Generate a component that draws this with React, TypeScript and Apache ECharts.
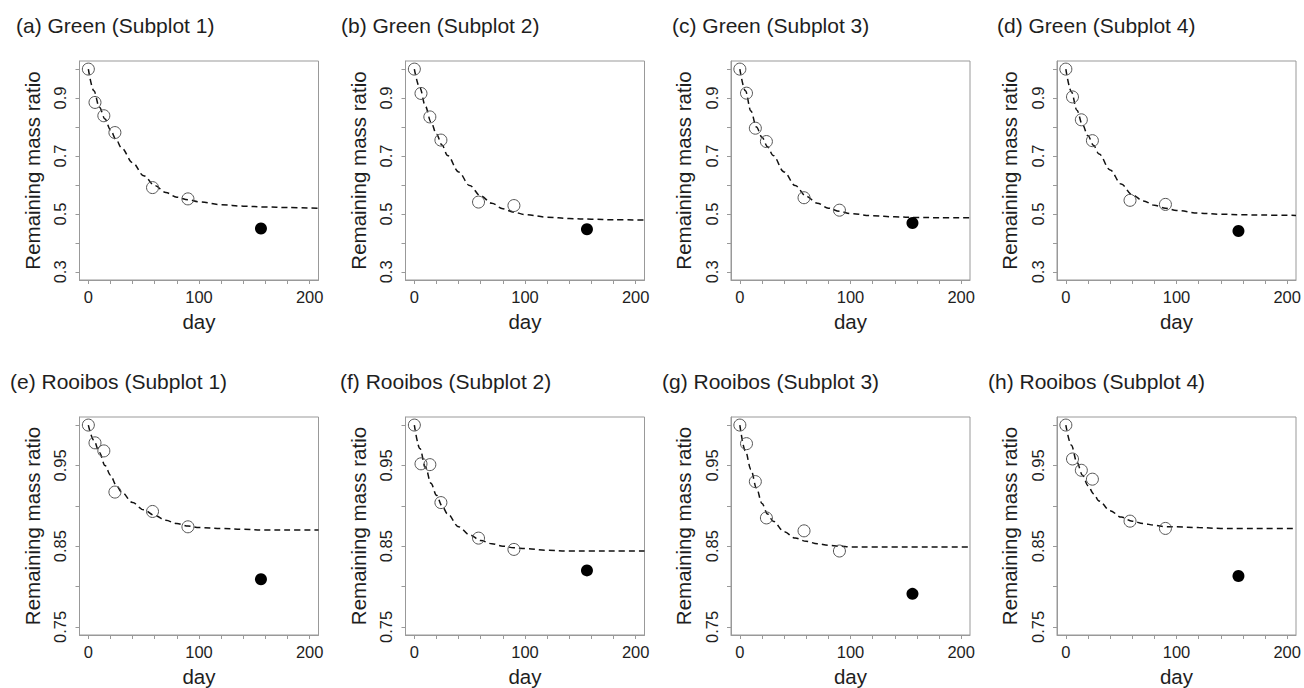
import React, { useEffect, useRef } from "react";
import * as echarts from "echarts";

// ---------- data ----------
const PANEL_TITLES = [
  "(a) Green (Subplot 1)",
  "(b) Green (Subplot 2)",
  "(c) Green (Subplot 3)",
  "(d) Green (Subplot 4)",
  "(e) Rooibos (Subplot 1)",
  "(f) Rooibos (Subplot 2)",
  "(g) Rooibos (Subplot 3)",
  "(h) Rooibos (Subplot 4)",
];

const OBS_DAYS = [0, 6, 14, 24, 58, 90];
const FILLED_DAY = 156;
const CURVE_DAYS = [0, 5, 10, 15, 20, 25, 30, 40, 50, 60, 70, 80, 90, 100, 120, 140, 160, 180, 208];

const X_TICKS = [0, 20, 40, 60, 80, 100, 120, 140, 160, 180, 200];
const X_LABELS = [0, 100, 200];
const GREEN_Y_TICKS = [0.3, 0.4, 0.5, 0.6, 0.7, 0.8, 0.9, 1.0];
const GREEN_Y_LABELS = [0.3, 0.5, 0.7, 0.9];
const ROOIBOS_Y_TICKS = [0.75, 0.8, 0.85, 0.9, 0.95, 1.0];
const ROOIBOS_Y_LABELS = [0.75, 0.85, 0.95];

const A_OBS = [1.0, 0.885, 0.839, 0.781, 0.591, 0.552];
const B_OBS = [1.0, 0.916, 0.835, 0.755, 0.541, 0.529];
const C_OBS = [1.0, 0.917, 0.796, 0.75, 0.556, 0.513];
const D_OBS = [1.0, 0.904, 0.825, 0.753, 0.547, 0.533];
const E_OBS = [1.0, 0.978, 0.968, 0.917, 0.893, 0.874];
const F_OBS = [1.0, 0.952, 0.951, 0.904, 0.86, 0.846];
const G_OBS = [1.0, 0.977, 0.93, 0.885, 0.869, 0.844];
const H_OBS = [1.0, 0.958, 0.944, 0.933, 0.881, 0.872];

const FILLED = [0.45, 0.447, 0.469, 0.441, 0.809, 0.82, 0.791, 0.813];

const A_CURVE = [1.0, 0.925, 0.868, 0.828, 0.79, 0.757, 0.728, 0.677, 0.632, 0.598, 0.574, 0.558, 0.549, 0.542, 0.532, 0.527, 0.524, 0.522, 0.52];
const B_CURVE = [1.0, 0.935, 0.872, 0.818, 0.775, 0.738, 0.702, 0.645, 0.598, 0.562, 0.537, 0.518, 0.506, 0.498, 0.489, 0.484, 0.482, 0.48, 0.479];
const C_CURVE = [1.0, 0.925, 0.855, 0.8, 0.765, 0.732, 0.702, 0.645, 0.598, 0.561, 0.537, 0.52, 0.509, 0.501, 0.494, 0.49, 0.488, 0.487, 0.487];
const D_CURVE = [1.0, 0.922, 0.858, 0.808, 0.77, 0.737, 0.707, 0.652, 0.603, 0.566, 0.545, 0.53, 0.52, 0.512, 0.503, 0.499, 0.497, 0.496, 0.495];
const E_CURVE = [1.0, 0.981, 0.966, 0.95, 0.938, 0.926, 0.917, 0.904, 0.895, 0.888, 0.882, 0.878, 0.875, 0.873, 0.872, 0.871, 0.87, 0.87, 0.87];
const F_CURVE = [1.0, 0.971, 0.948, 0.928, 0.913, 0.9, 0.89, 0.874, 0.864, 0.857, 0.853, 0.85, 0.848, 0.847, 0.845, 0.844, 0.844, 0.844, 0.844];
const G_CURVE = [1.0, 0.968, 0.945, 0.922, 0.903, 0.89, 0.881, 0.868, 0.86, 0.856, 0.853, 0.851, 0.85, 0.849, 0.849, 0.849, 0.849, 0.849, 0.849];
const H_CURVE = [1.0, 0.975, 0.954, 0.938, 0.925, 0.915, 0.906, 0.894, 0.886, 0.881, 0.878, 0.876, 0.874, 0.874, 0.873, 0.872, 0.872, 0.872, 0.872];

const OBS = [A_OBS, B_OBS, C_OBS, D_OBS, E_OBS, F_OBS, G_OBS, H_OBS];
const CURVES = [A_CURVE, B_CURVE, C_CURVE, D_CURVE, E_CURVE, F_CURVE, G_CURVE, H_CURVE];

// ---------- layout ----------
const FONT = "'Liberation Sans', Arial, Helvetica, sans-serif";
const COL_LEFT = [79.5, 405.5, 731, 1057];
const ROW_TOP = [61, 417];
const BOX_W = 239;
const BOX_H = 219;
const TITLE_LEFT = [16, 341, 672, 997, 10, 340, 662, 988];
const TITLE_TOP = [15, 371];
const BOX_COLOR = "#999";
const TEXT_COLOR = "#1e1e1e";

export default function App() {
  const ref = useRef<HTMLDivElement>(null);

  useEffect(() => {
    if (!ref.current) return;
    const chart = echarts.init(ref.current, undefined, { renderer: "svg" });

    const grids: any[] = [];
    const xAxes: any[] = [];
    const yAxes: any[] = [];
    const series: any[] = [];
    const titles: any[] = [];

    for (let i = 0; i < 8; i++) {
      const row = i < 4 ? 0 : 1;
      const col = i % 4;
      const green = row === 0;
      grids.push({
        left: COL_LEFT[col],
        top: ROW_TOP[row],
        width: BOX_W,
        height: BOX_H,
        show: true,
        borderColor: BOX_COLOR,
        borderWidth: 1,
        backgroundColor: "transparent",
        containLabel: false,
      });
      xAxes.push({
        gridIndex: i,
        type: "value",
        min: -8,
        max: 208,
        axisLine: { show: true, onZero: false, lineStyle: { color: BOX_COLOR, width: 1 } },
        splitLine: { show: false },
        axisTick: {
          show: true,
          inside: false,
          length: 4,
          lineStyle: { color: BOX_COLOR, width: 1 },
          customValues: X_TICKS,
        },
        axisLabel: {
          customValues: X_LABELS,
          margin: 8,
          fontSize: 16.5,
          color: TEXT_COLOR,
          fontFamily: FONT,
        },
        name: "day",
        nameLocation: "middle",
        nameGap: 31,
        nameTextStyle: { fontSize: 20.5, color: TEXT_COLOR, fontFamily: FONT },
      });
      yAxes.push({
        gridIndex: i,
        type: "value",
        min: green ? 0.272 : 0.74,
        max: green ? 1.028 : 1.01,
        axisLine: { show: true, onZero: false, lineStyle: { color: BOX_COLOR, width: 1 } },
        splitLine: { show: false },
        axisTick: {
          show: true,
          inside: false,
          length: 4,
          lineStyle: { color: BOX_COLOR, width: 1 },
          customValues: green ? GREEN_Y_TICKS : ROOIBOS_Y_TICKS,
        },
        axisLabel: {
          customValues: green ? GREEN_Y_LABELS : ROOIBOS_Y_LABELS,
          rotate: 90,
          margin: 11,
          fontSize: 16.5,
          color: TEXT_COLOR,
          fontFamily: FONT,
          formatter: (v: number) => (green ? v.toFixed(1) : v.toFixed(2)),
        },
        name: "Remaining mass ratio",
        nameLocation: "middle",
        nameGap: 37,
        nameTextStyle: { fontSize: 20.5, color: TEXT_COLOR, fontFamily: FONT },
      });
      titles.push({
        text: PANEL_TITLES[i],
        left: TITLE_LEFT[i],
        top: TITLE_TOP[row],
        padding: 0,
        textStyle: { fontSize: 21, fontWeight: "normal", color: TEXT_COLOR, fontFamily: FONT },
      });
      series.push({
        type: "line",
        xAxisIndex: i,
        yAxisIndex: i,
        data: CURVE_DAYS.map((d, k) => [d, CURVES[i][k]]),
        smooth: 0.35,
        smoothMonotone: "x",
        symbol: "none",
        silent: true,
        lineStyle: { color: "#111", width: 1.5, type: [6, 4], opacity: 1 },
        z: 2,
      });
      series.push({
        type: "scatter",
        xAxisIndex: i,
        yAxisIndex: i,
        data: OBS_DAYS.map((d, k) => [d, OBS[i][k]]),
        symbol: "circle",
        symbolSize: 12,
        silent: true,
        itemStyle: { color: "rgba(0,0,0,0)", borderColor: "#555", borderWidth: 1, opacity: 1 },
        z: 3,
      });
      series.push({
        type: "scatter",
        xAxisIndex: i,
        yAxisIndex: i,
        data: [[FILLED_DAY, FILLED[i]]],
        symbol: "circle",
        symbolSize: 12,
        silent: true,
        itemStyle: { color: "#000", opacity: 1 },
        z: 3,
      });
    }

    chart.setOption({
      animation: false,
      backgroundColor: "#fff",
      title: titles,
      grid: grids,
      xAxis: xAxes,
      yAxis: yAxes,
      series,
    });

    return () => chart.dispose();
  }, []);

  return (
    <div
      ref={ref}
      style={{ position: "fixed", left: 0, top: 0, width: 1304, height: 688, background: "#fff" }}
    />
  );
}
